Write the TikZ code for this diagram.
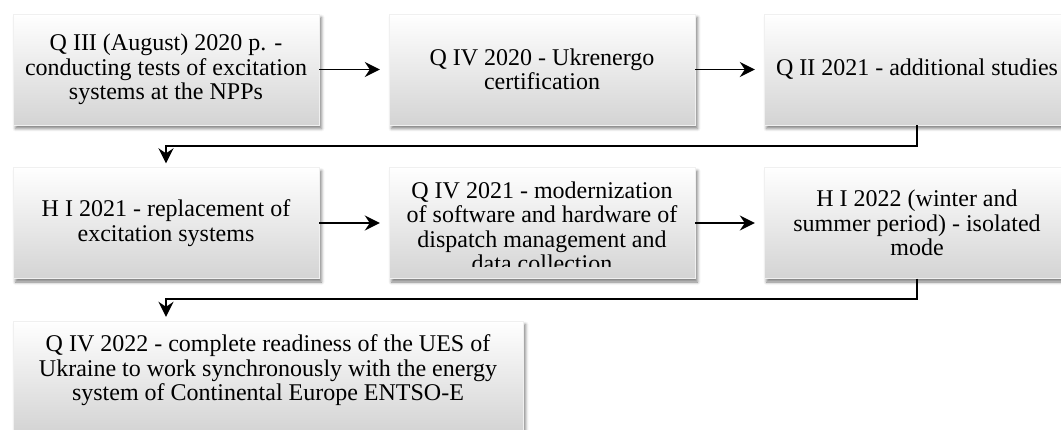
\documentclass[tikz,border=0pt]{standalone}
\usepackage{fontspec}
\setmainfont{Liberation Serif}
\usetikzlibrary{arrows.meta,shadows.blur}
\begin{document}
\begin{tikzpicture}[x=1pt, y=-1pt, >={Stealth[length=15pt,width=15pt,inset=5pt]},
  stage/.style={top color=white, bottom color=black!17, draw=black!6, align=center, inner sep=0pt,
    minimum width=306pt, minimum height=111pt, font=\fontsize{24}{24.5}\selectfont,
    blur shadow={shadow xshift=2.5pt, shadow yshift=-3.5pt, shadow blur radius=3pt, shadow opacity=50}},
  words/.style={align=center, inner sep=0pt, font=\fontsize{24}{24.5}\selectfont},
  link/.style={->, line width=1.8pt}]
\useasboundingbox (0,0) rectangle (1061,430);
\clip (0,0) rectangle (1061,430);
\node[stage] (a) at (166,69.5) {Q III (August) 2020 p. -\\conducting tests of excitation\\systems at the NPPs};
\node[stage] (b) at (542,69.5) {Q IV 2020 - Ukrenergo\\certification};
\node[stage] (c) at (917,69.5) {Q II 2021 - additional studies};
\node[stage] (d) at (166,223) {H I 2021 - replacement of\\excitation systems};
\node[stage] (e) at (542,223) {};
\node[stage] (f) at (917,223) {H I 2022 (winter and\\summer period) - isolated\\mode};
\node[stage, minimum width=510pt, text depth=17pt] (g) at (268,376.5) {Q IV 2022 - complete readiness of the UES of\\Ukraine to work synchronously with the energy\\system of Continental Europe ENTSO-E};
% overflowing text, cut at the inner margin
\begin{scope}
\clip (e.north west) rectangle ([yshift=12pt]e.south east);
\node[words] (et) at ([yshift=-4pt]e.center) {Q IV 2021 - modernization\\of software and hardware of\\dispatch management and\\data collection};
\end{scope}
\draw[link, shorten >=9pt] (a) -- (b);
\draw[link, shorten >=9pt] (b) -- (c);
\draw[link, shorten >=4pt] (c.south) -- ++(0,21) -| (d.north);
\draw[link, shorten >=9pt] (d) -- (e);
\draw[link, shorten >=9pt] (e) -- (f);
\draw[link, shorten >=4pt] (f.south) -- ++(0,20) -| (d.south |- g.north);
\end{tikzpicture}
\end{document}
